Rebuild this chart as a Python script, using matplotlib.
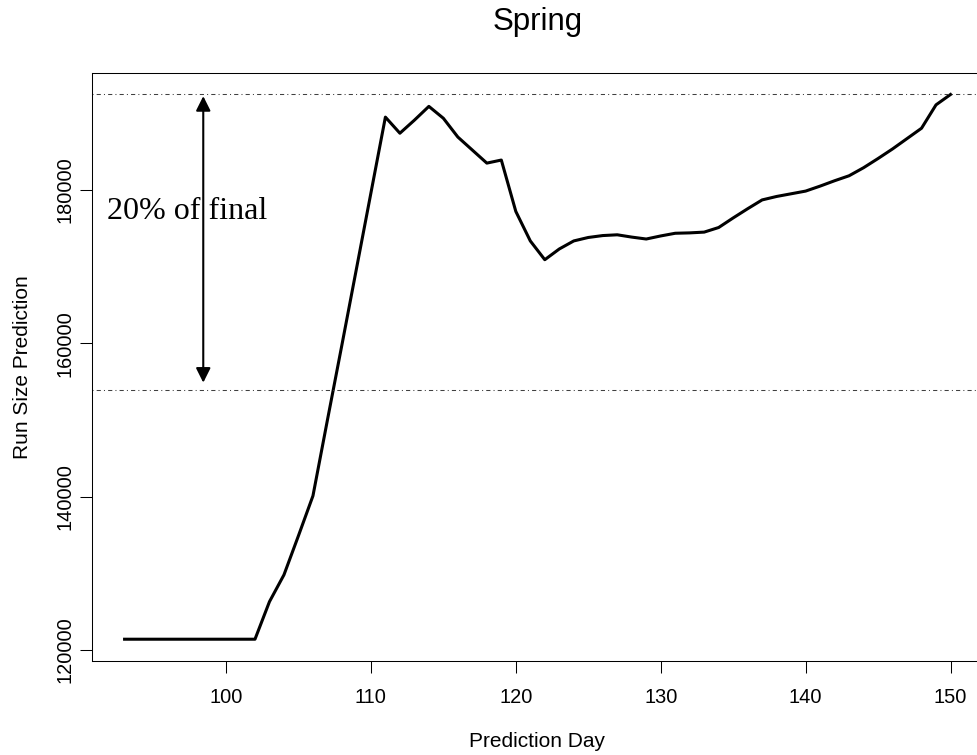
import numpy as np
from matplotlib import pyplot as plt


# prediction day and predicted run size
days = np.arange(93, 151)
run_size = [
    121400, 121400, 121400, 121400, 121400, 121400, 121400, 121400, 121400, 121400,  # 93-102
    126300, 129800, 134900, 140100, 150000, 159800, 169700, 179600, 189500, 187400,  # 103-112
    189100, 190900, 189350, 186900, 185200, 183500, 183900, 177200, 173350, 170900,  # 113-122
    172300, 173350, 173800, 174050, 174150, 173850, 173600, 174000, 174350, 174400,  # 123-132
    174500, 175100, 176350, 177550, 178700, 179150, 179500, 179850, 180500, 181200,  # 133-142
    181850, 182900, 184100, 185350, 186700, 188050, 191100, 192450,                  # 143-150
]

final = run_size[-1]
lower = 0.8 * final

plt.rcParams['font.family'] = ['Liberation Sans', 'DejaVu Sans']

fig = plt.figure(figsize=(9.77, 7.55), dpi=100)
ax = fig.add_axes([0.0937, 0.1245, 0.913, 0.7792])

ax.plot(days, run_size, color='black', lw=2.2, solid_joinstyle='round')

# reference lines: final value and 80% of it
for yv in (final, lower):
    ax.axhline(yv, color='0.25', lw=0.75, linestyle=(0, (1, 3, 4, 3)))

# double headed arrow between the two lines
ax.annotate('', xy=(98.43, final), xytext=(98.43, lower),
            arrowprops=dict(arrowstyle='<|-|>', color='black', lw=1.5,
                            mutation_scale=22, shrinkA=5, shrinkB=1.2))
ax.text(97.31, 177170, '20% of final', family=['Liberation Serif', 'DejaVu Serif'],
        fontsize=23, ha='center', va='center')

# R style default limits (4% padding)
span_x = days[-1] - days[0]
span_y = max(run_size) - min(run_size)
ax.set_xlim(days[0] - 0.04 * span_x, days[-1] + 0.04 * span_x)
ax.set_ylim(min(run_size) - 0.04 * span_y, max(run_size) + 0.04 * span_y)

ax.set_xticks([100, 110, 120, 130, 140, 150])
ax.set_yticks([120000, 140000, 160000, 180000])
ax.tick_params(axis='both', direction='out', length=8.5, width=0.75, labelsize=14.4)
ax.tick_params(axis='x', pad=11)
ax.tick_params(axis='y', pad=4)
for lbl in ax.get_yticklabels():
    lbl.set_rotation(90)
    lbl.set_va('center')

for sp in ax.spines.values():
    sp.set_linewidth(0.75)

ax.set_xlabel('Prediction Day', fontsize=15)
ax.set_ylabel('Run Size Prediction', fontsize=15)
ax.xaxis.label.set_va('baseline')
ax.yaxis.label.set_va('baseline')
ax.xaxis.set_label_coords(0.4995, -0.1467)
ax.yaxis.set_label_coords(-0.0709, 0.5)
ax.set_title('Spring', fontsize=22.5, pad=31)

fig.savefig('out.png', dpi=100)
